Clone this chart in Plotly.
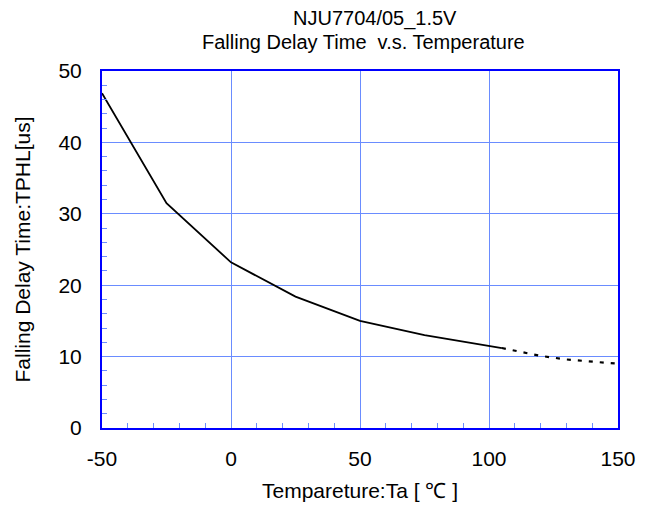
import plotly.graph_objects as go

# Measured data (solid part)
temp_solid = [-50, -25, 0, 25, 50, 75, 105]
tphl_solid = [46.9, 31.5, 23.2, 18.4, 15.0, 13.0, 11.2]
# Extrapolated (dotted) part
temp_dot = [105, 110, 120, 130, 140, 150]
tphl_dot = [11.2, 10.8, 10.1, 9.6, 9.3, 9.0]

x_ticks = [-50, 0, 50, 100, 150]
x_ticktext = ["-50", "0", "50", "100", "150"]
y_ticks = [0, 10, 20, 30, 40, 50]

title_line1 = "NJU7704/05_1.5V"
title_line2 = "Falling Delay Time  v.s. Temperature"
x_title = "Tempareture:Ta [ \u2103 ]"
y_title = "Falling Delay Time:TPHL[us]"

FONT = "Liberation Sans, Arial, sans-serif"
AXIS_BLUE = "#0000FF"
GRID_BLUE = "#6A8CFF"

fig = go.Figure()
fig.add_trace(go.Scatter(x=temp_solid, y=tphl_solid, mode="lines",
                         line=dict(color="black", width=1.8), showlegend=False))
fig.add_trace(go.Scatter(x=temp_dot, y=tphl_dot, mode="lines",
                         line=dict(color="black", width=2.2, dash="4px,7px"), showlegend=False))

fig.update_layout(
    width=651, height=510,
    margin=dict(l=102, r=33, t=71, b=82),
    paper_bgcolor="white", plot_bgcolor="white",
    font=dict(family=FONT, size=21, color="black"),
    annotations=[
        dict(text=title_line1, xref="paper", yref="paper", x=(375 - 102) / 516, y=1 + (71 - 18) / 357,
             xanchor="center", yanchor="middle", showarrow=False, font=dict(size=20)),
        dict(text=title_line2, xref="paper", yref="paper", x=(363 - 102) / 516, y=1 + (71 - 42) / 357,
             xanchor="center", yanchor="middle", showarrow=False, font=dict(size=20)),
    ],
)
fig.update_xaxes(
    range=[-50, 150], tickvals=x_ticks, ticktext=x_ticktext,
    showgrid=True, gridcolor=GRID_BLUE, gridwidth=1,
    showline=True, linecolor=AXIS_BLUE, linewidth=2, mirror=True,
    ticks="inside", ticklen=6, tickcolor=GRID_BLUE, tickwidth=1,
    minor=dict(dtick=10, ticks="inside", ticklen=5, tickcolor=GRID_BLUE, showgrid=False),
    zeroline=False, ticklabelstandoff=11,
    title=dict(text=x_title, standoff=14, font=dict(size=21)),
)
fig.update_yaxes(
    range=[0, 50], tickvals=y_ticks,
    showgrid=True, gridcolor=GRID_BLUE, gridwidth=1,
    showline=True, linecolor=AXIS_BLUE, linewidth=2, mirror=True,
    ticks="inside", ticklen=6, tickcolor=GRID_BLUE, tickwidth=1,
    minor=dict(dtick=2, ticks="inside", ticklen=5, tickcolor=GRID_BLUE, showgrid=False),
    zeroline=False, ticklabelstandoff=14,
    title=dict(text=y_title, standoff=22, font=dict(size=21)),
)

fig.write_html("out.html")
